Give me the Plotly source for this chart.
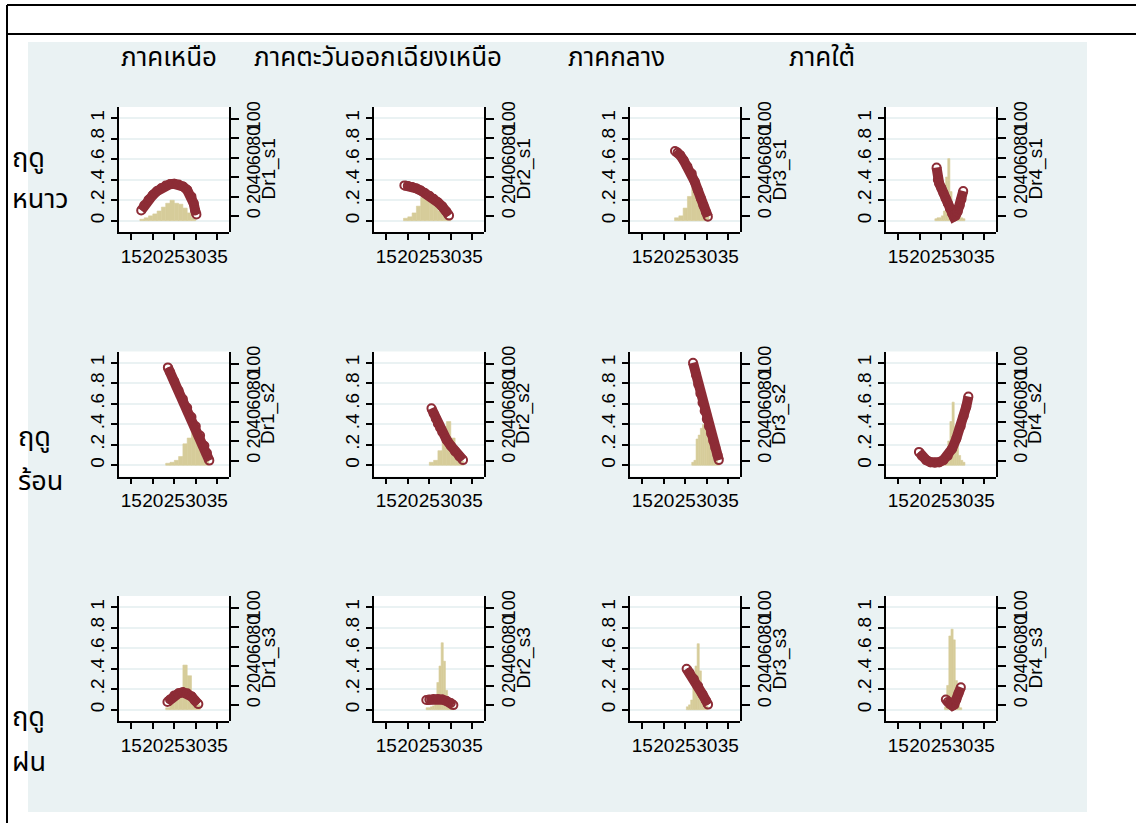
import plotly.graph_objects as go

W, H = 1136, 823

# ---------------- labels ----------------
REGIONS = ["ภาคเหนือ", "ภาคตะวันออกเฉียงเหนือ", "ภาคกลาง", "ภาคใต้"]
SEASONS = [["ฤดู", "หนาว"], ["ฤดู", "ร้อน"], ["ฤดู", "ฝน"]]

X_TICKS = [15, 20, 25, 30, 35]
P_TICKS = [0, 0.2, 0.4, 0.6, 0.8, 1]
P_LABELS = ["0", ".2", ".4", ".6", ".8", "1"]
F_TICKS = [0, 20, 40, 60, 80, 100]
F_LABELS = ["0", "20", "40", "60", "80", "100"]

# ---------------- winter (s1) ----------------
dr1_s1_temp = [17.3, 18, 19, 20, 21, 22, 23, 24, 25, 26, 27, 28, 29, 29.5, 29.85, 30.15]
dr1_s1_prob = [0.10, 0.15, 0.205, 0.25, 0.29, 0.32, 0.343, 0.357, 0.36, 0.353, 0.335, 0.30, 0.235, 0.17, 0.10, 0.06]
dr1_s1_bins = [17.5, 18.5, 19.5, 20.5, 21.5, 22.5, 23.5, 24.5, 25.5, 26.5, 27.5, 28.5, 29.5]
dr1_s1_pct = [1.5, 3, 5, 7, 10, 14, 18, 21, 18, 17, 13, 8, 3]

dr2_s1_temp = [19.2, 20, 21, 22, 23, 24, 25, 26, 27, 28, 29, 29.6]
dr2_s1_prob = [0.345, 0.34, 0.33, 0.315, 0.295, 0.27, 0.245, 0.215, 0.18, 0.14, 0.09, 0.05]
dr2_s1_bins = [19.5, 20.5, 21.5, 22.5, 23.5, 24.5, 25.5, 26.5, 27.5, 28.5, 29.5]
dr2_s1_pct = [2.5, 4, 8, 15, 24, 22, 19, 15, 10, 5, 2]

dr3_s1_temp = [22.6, 23.2, 23.8, 24.6, 25.5, 26.5, 27.2, 27.9, 28.6, 29.2, 29.8, 30.25]
dr3_s1_prob = [0.68, 0.665, 0.64, 0.59, 0.53, 0.46, 0.38, 0.30, 0.22, 0.15, 0.085, 0.04]
dr3_s1_bins = [23, 24, 25, 26, 27, 28, 29, 30]
dr3_s1_pct = [3, 5, 13, 25, 36, 36, 15, 5]

dr4_s1_temp = [23.9, 24.2, 24.5, 25, 25.5, 26, 26.5, 27, 27.5, 27.9, 28.3, 28.8, 29.3, 29.7, 30.1]
dr4_s1_prob = [0.52, 0.40, 0.365, 0.32, 0.27, 0.22, 0.17, 0.12, 0.07, 0.04, 0.05, 0.09, 0.15, 0.21, 0.29]
dr4_s1_bins = [23.75, 24.25, 24.75, 25.25, 25.75, 26.25, 26.75, 27.25, 27.75, 28.25, 28.75, 29.25, 29.75, 30.25]
dr4_s1_pct = [2, 3, 3, 5, 10, 45, 64, 30, 15, 10, 7, 5, 3, 2]

# ---------------- hot season (s2) ----------------
dr1_s2_temp = [23.5, 24, 25, 26, 27, 28, 29, 30, 31, 32, 32.6, 33.15]
dr1_s2_prob = [0.955, 0.91, 0.82, 0.73, 0.645, 0.56, 0.47, 0.38, 0.29, 0.19, 0.12, 0.045]
dr1_s2_bins = [23.5, 24.5, 25.5, 26.5, 27.5, 28.5, 29.5, 30.5, 31.5, 32.5]
dr1_s2_pct = [2, 3, 5, 9, 22, 28, 36, 26, 14, 5]

dr2_s2_temp = [25.5, 26, 26.5, 27, 27.5, 28, 29, 30, 31, 32, 32.85]
dr2_s2_prob = [0.555, 0.505, 0.455, 0.405, 0.365, 0.325, 0.25, 0.19, 0.135, 0.085, 0.05]
dr2_s2_bins = [25.5, 26.5, 27.5, 28.5, 29.5, 30.5, 31.5, 32.5]
dr2_s2_pct = [3, 5, 15, 40, 45, 28, 12, 4]

dr3_s2_temp = [26.8, 27.5, 28, 28.5, 29, 29.5, 30, 30.5, 31, 31.5, 32, 32.5, 32.8]
dr3_s2_prob = [1.0, 0.88, 0.79, 0.70, 0.61, 0.53, 0.45, 0.38, 0.31, 0.24, 0.17, 0.10, 0.05]
dr3_s2_bins = [26.75, 27.25, 27.75, 28.25, 28.75, 29.25, 29.75, 30.25, 30.75, 31.25, 31.75, 32.25, 32.75]
dr3_s2_pct = [3, 5, 27, 31, 38, 42, 45, 40, 30, 20, 12, 6, 2]

dr4_s2_temp = [19.8, 20.5, 21.5, 22.5, 23.5, 24.5, 25.5, 26.5, 27.5, 28.5, 29.5, 30.2, 30.8, 31.3]
dr4_s2_prob = [0.13, 0.09, 0.05, 0.03, 0.025, 0.03, 0.05, 0.09, 0.16, 0.26, 0.38, 0.48, 0.57, 0.67]
dr4_s2_bins = [22.75, 23.25, 23.75, 24.25, 24.75, 25.25, 25.75, 26.25, 26.75, 27.25, 27.75, 28.25,
               28.75, 29.25, 29.75, 30.25]
dr4_s2_pct = [2, 3, 4, 5, 6, 8, 10, 14, 25, 45, 65, 40, 20, 10, 5, 3]

# ---------------- rainy season (s3) ----------------
dr1_s3_temp = [23.4, 24, 25, 26, 27, 28, 29, 29.8, 30.6]
dr1_s3_prob = [0.075, 0.10, 0.14, 0.16, 0.17, 0.16, 0.13, 0.09, 0.055]
dr1_s3_bins = [23.5, 24.5, 25.5, 26.5, 27.5, 28.5, 29.5, 30.5]
dr1_s3_pct = [2, 6, 12, 20, 46, 35, 15, 5]

dr2_s3_temp = [24.3, 25, 26, 27, 28, 29, 30, 30.6]
dr2_s3_prob = [0.095, 0.10, 0.105, 0.105, 0.10, 0.085, 0.065, 0.045]
dr2_s3_bins = [24.5, 25, 25.5, 26, 26.5, 27, 27.5, 28, 28.5, 29, 29.5, 30, 30.5]
dr2_s3_pct = [2, 2, 3, 4, 8, 28, 45, 69, 50, 20, 6, 3, 2]

dr3_s3_temp = [25.3, 26, 27, 28, 29, 29.8, 30.3]
dr3_s3_prob = [0.40, 0.36, 0.30, 0.23, 0.15, 0.09, 0.05]
dr3_s3_bins = [25.5, 26, 26.5, 27, 27.5, 28, 28.5, 29, 29.5, 30]
dr3_s3_pct = [3, 5, 10, 25, 45, 68, 40, 20, 8, 4]

dr4_s3_temp = [26.05, 26.5, 27, 27.6, 28.0, 28.5, 29.0, 29.55]
dr4_s3_prob = [0.10, 0.075, 0.055, 0.04, 0.05, 0.10, 0.16, 0.22]
dr4_s3_bins = [26, 26.5, 27, 27.5, 28, 28.5, 29, 29.5]
dr4_s3_pct = [3, 25, 76, 83, 72, 30, 5, 2]

# panel table: (row, col, axis title, temp, prob, bins, pct, bin width)
PANELS = [
    (0, 0, "Dr1_s1", dr1_s1_temp, dr1_s1_prob, dr1_s1_bins, dr1_s1_pct, 1.0),
    (0, 1, "Dr2_s1", dr2_s1_temp, dr2_s1_prob, dr2_s1_bins, dr2_s1_pct, 1.0),
    (0, 2, "Dr3_s1", dr3_s1_temp, dr3_s1_prob, dr3_s1_bins, dr3_s1_pct, 1.0),
    (0, 3, "Dr4_s1", dr4_s1_temp, dr4_s1_prob, dr4_s1_bins, dr4_s1_pct, 0.5),
    (1, 0, "Dr1_s2", dr1_s2_temp, dr1_s2_prob, dr1_s2_bins, dr1_s2_pct, 1.0),
    (1, 1, "Dr2_s2", dr2_s2_temp, dr2_s2_prob, dr2_s2_bins, dr2_s2_pct, 1.0),
    (1, 2, "Dr3_s2", dr3_s2_temp, dr3_s2_prob, dr3_s2_bins, dr3_s2_pct, 0.5),
    (1, 3, "Dr4_s2", dr4_s2_temp, dr4_s2_prob, dr4_s2_bins, dr4_s2_pct, 0.5),
    (2, 0, "Dr1_s3", dr1_s3_temp, dr1_s3_prob, dr1_s3_bins, dr1_s3_pct, 1.0),
    (2, 1, "Dr2_s3", dr2_s3_temp, dr2_s3_prob, dr2_s3_bins, dr2_s3_pct, 0.5),
    (2, 2, "Dr3_s3", dr3_s3_temp, dr3_s3_prob, dr3_s3_bins, dr3_s3_pct, 0.5),
    (2, 3, "Dr4_s3", dr4_s3_temp, dr4_s3_prob, dr4_s3_bins, dr4_s3_pct, 0.5),
]

# ---------------- styling ----------------
RED = "#8d2c36"
SAND = "#d6cc9a"
BG = "#eaf2f3"
FONT = "Liberation Sans, Arial, sans-serif"
THAI = "Noto Sans Thai, Tahoma, Noto Sans, sans-serif"

COL_LEFT = [119, 374, 630, 886]
ROW_TOP = [107, 351.5, 596]
PW, PH = 110, 125

X_RANGE = [12.14, 37.72]
P_RANGE = [-0.11, 1.11]
F_RANGE = [-16.5, 112.4]
H_RANGE = [-11.65, 117.2]


def nm(kind, i):
    return kind if i == 1 else f"{kind}{i}"


def placeholder(i):
    # empty trace so the subplot (and its axes) gets drawn
    return go.Scatter(x=[], y=[], xaxis=nm("x", i), yaxis=nm("y", i),
                      showlegend=False, hoverinfo="skip")


fig = go.Figure()
layout = {}
tick_font = dict(family=FONT, size=19, color="black")
right_font = dict(family=FONT, size=18, color="black")
no_margin = dict(automargin=False)

# every panel is four stacked subplots sharing one domain:
# 1) left probability axis + temperature axis, 2) histogram, 3) fitted curve, 4) right frequency axis
for k, (r, c, title, temp, prob, bins, pct, bw) in enumerate(PANELS):
    xdom = [COL_LEFT[c] / W, (COL_LEFT[c] + PW) / W]
    ydom = [1 - (ROW_TOP[r] + PH) / H, 1 - ROW_TOP[r] / H]
    base = 4 * k + 1
    ids = [base, base + 1, base + 2, base + 3]

    # layer 1: visible temperature axis and left probability axis
    i = ids[0]
    layout[nm("xaxis", i)] = dict(
        domain=xdom, anchor=nm("y", i), range=X_RANGE,
        tickmode="array", tickvals=X_TICKS, ticktext=[str(v) for v in X_TICKS], tickangle=0,
        ticks="outside", ticklen=6, tickwidth=1.5, tickcolor="black",
        showline=True, linecolor="black", linewidth=1.5,
        showgrid=False, zeroline=False, tickfont=tick_font, **no_margin)
    layout[nm("yaxis", i)] = dict(
        domain=ydom, anchor=nm("x", i), range=P_RANGE,
        tickmode="array", tickvals=P_TICKS, ticktext=P_LABELS, tickangle=-90,
        ticks="outside", ticklen=6, tickwidth=1.5, tickcolor="black",
        showline=True, linecolor="black", linewidth=1.5,
        showgrid=True, gridcolor=BG, gridwidth=2, zeroline=False, tickfont=tick_font,
        **no_margin)
    fig.add_trace(placeholder(i))

    # layer 2: histogram
    i = ids[1]
    layout[nm("xaxis", i)] = dict(domain=xdom, anchor=nm("y", i), range=X_RANGE, visible=False,
                                  **no_margin)
    layout[nm("yaxis", i)] = dict(domain=ydom, anchor=nm("x", i), range=H_RANGE, visible=False,
                                  **no_margin)
    fig.add_trace(go.Bar(
        x=bins, y=pct, width=bw, xaxis=nm("x", i), yaxis=nm("y", i),
        marker=dict(color=SAND, line=dict(width=0.6, color=SAND)),
        showlegend=False, hoverinfo="skip"))

    # layer 3: fitted probabilities
    i = ids[2]
    layout[nm("xaxis", i)] = dict(domain=xdom, anchor=nm("y", i), range=X_RANGE, visible=False,
                                  **no_margin)
    layout[nm("yaxis", i)] = dict(domain=ydom, anchor=nm("x", i), range=P_RANGE, visible=False,
                                  **no_margin)
    fig.add_trace(go.Scatter(
        x=temp, y=prob, mode="lines+markers", xaxis=nm("x", i), yaxis=nm("y", i),
        line=dict(color=RED, width=10),
        marker=dict(symbol="circle-open", size=8, color=RED, line=dict(width=2, color=RED)),
        showlegend=False))

    # layer 4: right frequency axis
    i = ids[3]
    layout[nm("xaxis", i)] = dict(domain=xdom, anchor=nm("y", i), range=X_RANGE, visible=False,
                                  **no_margin)
    layout[nm("yaxis", i)] = dict(
        domain=ydom, anchor=nm("x", i), side="right", range=F_RANGE,
        tickmode="array", tickvals=F_TICKS, ticktext=F_LABELS, tickangle=-90,
        ticks="outside", ticklen=8, tickwidth=1.5, tickcolor="black",
        showline=True, linecolor="black", linewidth=1.5,
        showgrid=False, zeroline=False, tickfont=right_font, **no_margin)
    fig.add_trace(placeholder(i))

annotations = []
# frequency axis titles
for (r, c, title, *_rest) in PANELS:
    annotations.append(dict(
        x=(COL_LEFT[c] + PW + 39) / W, y=1 - (ROW_TOP[r] + PH / 2) / H,
        xref="paper", yref="paper", text=title, textangle=-90, showarrow=False,
        font=dict(family=FONT, size=19, color="black"), xanchor="center", yanchor="middle"))

# column headers
for name, x_left in zip(REGIONS, [119, 252, 566, 787]):
    annotations.append(dict(
        x=x_left / W, y=1 - 58 / H, xref="paper", yref="paper", text=name,
        showarrow=False, xanchor="left", yanchor="middle",
        font=dict(family=THAI, size=26, color="black")))

# row headers
ROW_LABEL_POS = [((10, 158), (10, 199)), ((16, 437), (16, 481)), ((10, 717), (10, 762))]
for lines, pos in zip(SEASONS, ROW_LABEL_POS):
    for text, (px, py) in zip(lines, pos):
        annotations.append(dict(
            x=px / W, y=1 - py / H, xref="paper", yref="paper", text=text,
            showarrow=False, xanchor="left", yanchor="middle",
            font=dict(family=THAI, size=27, color="black")))


def rect(x0, y0, x1, y1, fill):
    return dict(type="rect", xref="paper", yref="paper", x0=x0 / W, x1=x1 / W,
                y0=1 - y1 / H, y1=1 - y0 / H, fillcolor=fill, line=dict(width=0), layer="below")


def hline(x0, x1, y):
    return dict(type="line", xref="paper", yref="paper", x0=x0 / W, x1=x1 / W,
                y0=1 - y / H, y1=1 - y / H, line=dict(color="black", width=2), layer="above")


shapes = [
    rect(0, 0, 28, H, "white"),
    rect(1087, 0, W, H, "white"),
    rect(0, 0, W, 42, "white"),
    rect(0, 812, W, H, "white"),
]
# white plot regions
for (r, c, *_rest) in PANELS:
    shapes.append(rect(COL_LEFT[c], ROW_TOP[r], COL_LEFT[c] + PW, ROW_TOP[r] + PH, "white"))
shapes += [
    hline(7, W, 5),
    hline(7, W, 34),
    dict(type="line", xref="paper", yref="paper", x0=7 / W, x1=7 / W, y0=0, y1=1 - 5 / H,
         line=dict(color="black", width=2), layer="above"),
]

fig.update_layout(
    width=W, height=H, margin=dict(l=0, r=0, t=0, b=0, autoexpand=False),
    paper_bgcolor=BG, plot_bgcolor="rgba(0,0,0,0)",
    showlegend=False, annotations=annotations, shapes=shapes,
    font=dict(family=FONT, color="black"),
    **layout)

fig.write_html("out.html", config={"displayModeBar": False})
